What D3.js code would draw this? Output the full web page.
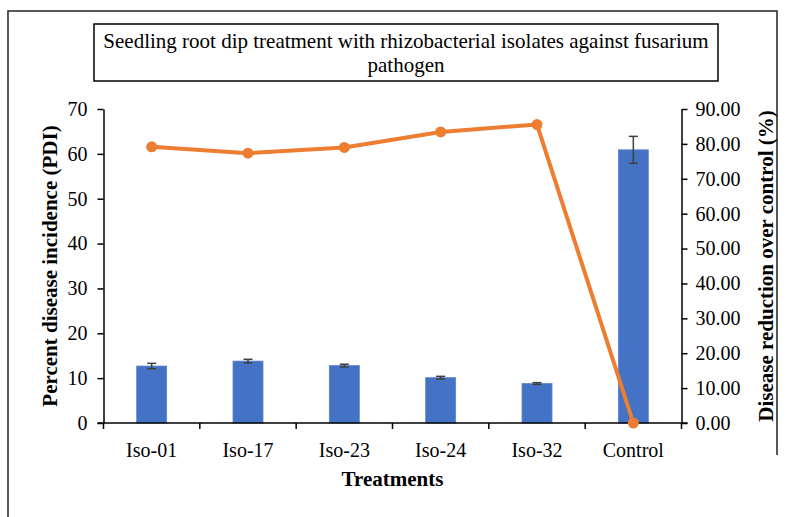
<!DOCTYPE html>
<html>
<head>
<meta charset="utf-8">
<script src="https://cdn.jsdelivr.net/npm/d3@7"></script>
<style>
  body { margin: 0; background: #fff; }
  svg text { font-family: "Times New Roman", "Liberation Serif", Tinos, serif !important; fill: #000; }
</style>
</head>
<body>
<div id="chart"></div>
<script>
// Data
const treatments = ["Iso-01", "Iso-17", "Iso-23", "Iso-24", "Iso-32", "Control"];
const pdi = [12.7, 13.8, 12.8, 10.1, 8.8, 60.9];
const pdiError = [0.6, 0.4, 0.3, 0.3, 0.2, 3.0];
const reduction = [79.15, 77.34, 78.98, 83.42, 85.55, 0];
const leftTicks = [0, 10, 20, 30, 40, 50, 60, 70];
const rightTicks = [0, 10, 20, 30, 40, 50, 60, 70, 80, 90];
const titleLines = ["Seedling root dip treatment with rhizobacterial isolates against fusarium", "pathogen"];

const W = 789, H = 517;
const plot = { left: 103.5, right: 681.5, top: 109, bottom: 423 };

const svg = d3.select("#chart").append("svg")
    .attr("width", W)
    .attr("height", H);

// outer frame (only partly inside the picture)
svg.append("path")
    .attr("d", `M8,${H} V11 H777 V455`)
    .attr("fill", "none")
    .attr("stroke", "#222")
    .attr("stroke-width", 1.5);

// title box
svg.append("rect")
    .attr("x", 94).attr("y", 24)
    .attr("width", 624).attr("height", 57)
    .attr("fill", "#fff")
    .attr("stroke", "#000")
    .attr("stroke-width", 1.5);

svg.selectAll(".title-line")
    .data(titleLines)
    .enter()
    .append("text")
    .attr("class", "title-line")
    .attr("x", 406)
    .attr("y", (d, i) => 48 + i * 24)
    .attr("text-anchor", "middle")
    .attr("font-size", "21px")
    .text(d => d);

// scales
const x = d3.scaleBand()
    .domain(treatments)
    .range([plot.left, plot.right]);

const yLeft = d3.scaleLinear()
    .domain([0, 70])
    .range([plot.bottom, plot.top]);

const yRight = d3.scaleLinear()
    .domain([0, 90])
    .range([plot.bottom, plot.top]);

const barW = 30;

// bars
svg.selectAll(".bar")
    .data(treatments)
    .enter()
    .append("rect")
    .attr("class", "bar")
    .attr("x", d => x(d) + x.bandwidth() / 2 - barW / 2)
    .attr("y", (d, i) => yLeft(pdi[i]))
    .attr("width", barW)
    .attr("height", (d, i) => yLeft(0) - yLeft(pdi[i]))
    .attr("fill", "#4472C4")
    .attr("stroke", "#5B86D0")
    .attr("stroke-width", 0.8);

// error bars
const err = svg.append("g").attr("class", "errors")
    .attr("stroke", "#404040")
    .attr("stroke-width", 1.5);

treatments.forEach((t, i) => {
    const cx = x(t) + x.bandwidth() / 2;
    const y1 = yLeft(pdi[i] + pdiError[i]);
    const y2 = yLeft(pdi[i] - pdiError[i]);
    err.append("line").attr("x1", cx).attr("x2", cx).attr("y1", y1).attr("y2", y2);
    err.append("line").attr("x1", cx - 4.5).attr("x2", cx + 4.5).attr("y1", y1).attr("y2", y1);
    err.append("line").attr("x1", cx - 4.5).attr("x2", cx + 4.5).attr("y1", y2).attr("y2", y2);
});

// axes
const xAxis = svg.append("g")
    .attr("transform", `translate(0,${plot.bottom})`)
    .call(d3.axisBottom(x).tickSize(0).tickPadding(20));
xAxis.select(".domain").attr("stroke", "#000").attr("stroke-width", 1.5)
    .attr("d", `M${plot.left - 6},0H${plot.right + 6}`);
xAxis.selectAll("text").attr("font-size", "20px");

// x-axis tick marks at band boundaries
svg.append("g").selectAll("line")
    .data(treatments.concat(["end"]))
    .enter()
    .append("line")
    .attr("x1", (d, i) => i < treatments.length ? x(d) : plot.right)
    .attr("x2", (d, i) => i < treatments.length ? x(d) : plot.right)
    .attr("y1", plot.bottom)
    .attr("y2", plot.bottom + 6)
    .attr("stroke", "#000")
    .attr("stroke-width", 1.5);

const leftAxis = svg.append("g")
    .attr("transform", `translate(${plot.left},0)`)
    .call(d3.axisLeft(yLeft).tickValues(leftTicks).tickSize(6).tickSizeOuter(0).tickPadding(10));
leftAxis.selectAll(".domain, line").attr("stroke", "#000").attr("stroke-width", 1.5);
leftAxis.selectAll("text").attr("font-size", "20px");

const rightAxis = svg.append("g")
    .attr("transform", `translate(${plot.right},0)`)
    .call(d3.axisRight(yRight).tickValues(rightTicks).tickFormat(d3.format(".2f")).tickSize(6).tickSizeOuter(0).tickPadding(8));
rightAxis.selectAll(".domain, line").attr("stroke", "#000").attr("stroke-width", 1.5);
rightAxis.selectAll("text").attr("font-size", "20px");

// line series
const line = d3.line()
    .x((d, i) => x(treatments[i]) + x.bandwidth() / 2)
    .y(d => yRight(d));

svg.append("path")
    .datum(reduction)
    .attr("d", line)
    .attr("fill", "none")
    .attr("stroke", "#ED7D31")
    .attr("stroke-width", 4)
    .attr("stroke-linejoin", "round");

svg.selectAll(".dot")
    .data(reduction)
    .enter()
    .append("circle")
    .attr("class", "dot")
    .attr("cx", (d, i) => x(treatments[i]) + x.bandwidth() / 2)
    .attr("cy", d => yRight(d))
    .attr("r", 5.5)
    .attr("fill", "#ED7D31");

// axis titles
svg.append("text")
    .attr("x", (plot.left + plot.right) / 2)
    .attr("y", 486)
    .attr("text-anchor", "middle")
    .attr("font-size", "21px")
    .attr("font-weight", "bold")
    .text("Treatments");

svg.append("text")
    .attr("transform", `translate(57,${(plot.top + plot.bottom) / 2}) rotate(-90)`)
    .attr("text-anchor", "middle")
    .attr("font-size", "21px")
    .attr("font-weight", "bold")
    .text("Percent disease incidence (PDI)");

svg.append("text")
    .attr("transform", `translate(773,${(plot.top + plot.bottom) / 2}) rotate(-90)`)
    .attr("text-anchor", "middle")
    .attr("font-size", "21px")
    .attr("font-weight", "bold")
    .text("Disease reduction over control (%)");
</script>
</body>
</html>
